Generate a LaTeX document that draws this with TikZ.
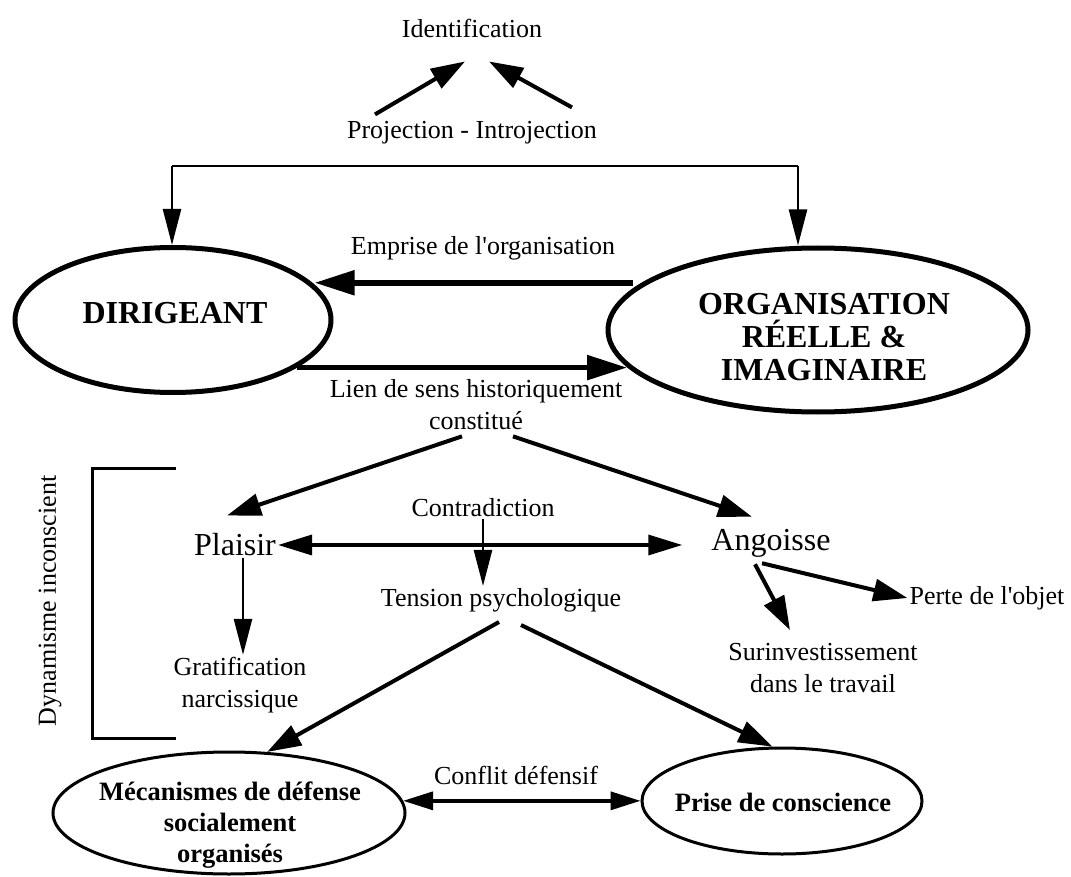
\documentclass[tikz,border=0pt]{standalone}
\usepackage{fontspec}
\newfontfamily\lbl{Liberation Serif}
\usetikzlibrary{arrows.meta,shapes.geometric}
\begin{document}
\begin{tikzpicture}[x=1pt,y=-1pt,
  every node/.style={inner sep=2pt, align=center, font=\lbl\fontsize{26}{32}\selectfont},
  bigword/.style={font=\lbl\fontsize{32}{34}\selectfont},
  ovalbig/.style={ellipse, draw, line width=5pt, inner sep=0pt},
  ovalsmall/.style={ellipse, draw, line width=3pt, inner sep=0pt},
  boldbig/.style={font=\lbl\bfseries\fontsize{32}{33}\selectfont},
  boldsmall/.style={font=\lbl\bfseries\fontsize{26.5}{31}\selectfont},
  thinarr/.style={line width=2.5pt, -{Triangle[length=36pt,width=18pt]}},
  medarr/.style={line width=4pt, -{Triangle[length=34pt,width=22pt]}},
  heavyarr/.style={line width=5.5pt, -{Triangle[length=40pt,width=24pt]}},
  dblarr/.style={line width=3.5pt, {Triangle[length=34pt,width=20pt]}-{Triangle[length=34pt,width=20pt]}},
  conflarr/.style={line width=3.5pt, {Triangle[length=30pt,width=18pt]}-{Triangle[length=30pt,width=18pt]}}
]
\fill[white] (0,0) rectangle (1071,877);
\useasboundingbox (0,0) rectangle (1071,877);

% top: identification
\node (ident) at (472,28) {Identification};
\node (proj) at (472,133) {Projection - Introjection};
\draw[medarr] ([xshift=-97pt,yshift=5pt]proj.north) -- ([xshift=-7pt,yshift=-22pt]ident.south);
\draw[medarr] ([xshift=100pt,yshift=12pt]proj.north) -- ([xshift=17pt,yshift=-22pt]ident.south);

% the two main ovals and their texts
\node[ovalbig, minimum width=316pt, minimum height=145pt] (dir) at (173,320) {};
\node[boldbig] (dirtxt) at (175,313) {DIRIGEANT};
\node[ovalbig, minimum width=420pt, minimum height=164pt] (org) at (818,330) {};
\node[boldbig] (orgtxt) at (824,337) {ORGANISATION\\R\'EELLE \&\\IMAGINAIRE};

% frame linking the two ovals from above
\coordinate (tl) at (172,166);
\coordinate (tr) at (798,166);
\draw[line width=2.5pt] (tl) -- (tr);
\draw[thinarr] (tl) -- (tl |- dir.north);
\draw[thinarr] (tr) -- (tr |- org.north);

% exchanges between the ovals
\node (emprise) at (483,248) {Emprise de l'organisation};
\coordinate (eo) at ([xshift=-9pt]org.165.6);
\draw[heavyarr] (eo) -- (eo -| dir.14.2);
\coordinate (ld) at (dir.-21.4);
\draw[heavyarr] (ld) -- (ld -| org.191.2);
\node (lien) at (476,405) {Lien de sens historiquement\\constitu\'e};

% middle level
\node[bigword] (plaisir) at (235,545) {Plaisir};
\node[bigword] (angoisse) at (771,543) {Angoisse};
\node (contra) at (483,508) {Contradiction};
\node (tension) at (501,600) {Tension psychologique};
\node (grat) at (240,685) {Gratification\\narcissique};
\node (surinv) at (823,668) {Surinvestissement\\dans le travail};
\node (perte) at (987,598) {Perte de l'objet};

\draw[medarr] ([xshift=-14pt,yshift=-4pt]lien.south) -- ([xshift=-8pt,yshift=16pt]plaisir.north);
\draw[medarr] ([xshift=37pt,yshift=-4pt]lien.south) -- ([xshift=-19pt,yshift=10pt]angoisse.north);

\coordinate (aw) at ([xshift=-27pt]angoisse.west);
\draw[dblarr] (plaisir.east) -- (aw |- plaisir.east);
\draw[thinarr] (contra.south) -- (contra.south |- tension.north);
\coordinate (ps) at ([xshift=8pt]plaisir.south);
\draw[thinarr] (ps) -- (ps |- grat.north);

\draw[medarr] ([xshift=-16pt,yshift=-5pt]angoisse.south) -- ([xshift=-33pt,yshift=11pt]surinv.north);
\draw[medarr] ([xshift=-9pt,yshift=-4pt]angoisse.south) -- (perte.west);

% bracket of the unconscious dynamics
\draw[line width=3pt] (176,468) -- (92,468) -- (92,738) -- (176,738);
\node[rotate=90] (dyn) at (50,601) {Dynamisme inconscient};

% bottom ovals and their texts
\node[ovalsmall, minimum width=352pt, minimum height=122pt] (meca) at (229,813) {};
\node[boldsmall] (mecatxt) at (230,825) {M\'ecanismes de d\'efense\\socialement\\organis\'es};
\node[ovalsmall, minimum width=280pt, minimum height=106pt] (prise) at (782,801) {};
\node[boldsmall] (prisetxt) at (783,802) {Prise de conscience};

\draw[medarr] ([xshift=-2pt,yshift=-8pt]tension.south) -- (meca.58);
\draw[medarr] ([xshift=20pt,yshift=-11pt]tension.south) -- (prise.100);

\node (conflit) at (516,775) {Conflit d\'efensif};
\coordinate (mc) at (meca.4);
\draw[conflarr] (mc) -- (mc -| prise.west);
\end{tikzpicture}
\end{document}
